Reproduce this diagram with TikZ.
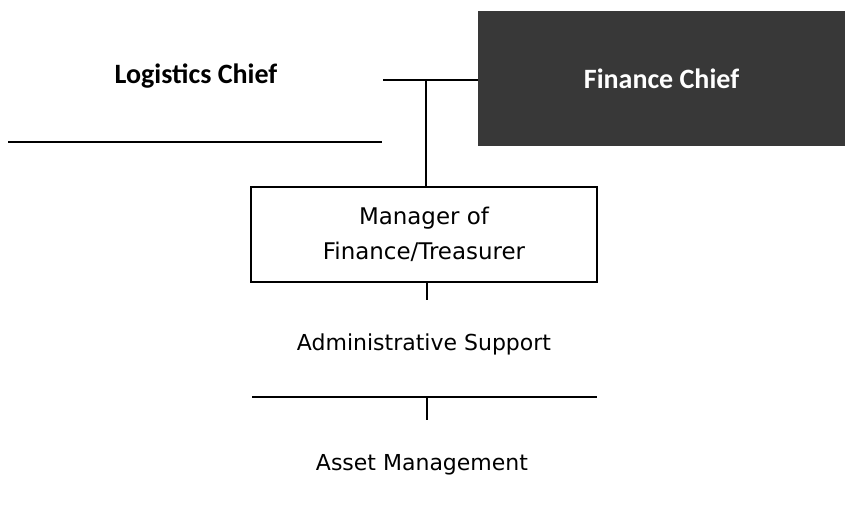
\documentclass[tikz,border=0pt]{standalone}
\usepackage{fontspec}
\setmainfont{DejaVu Sans}
\newfontfamily\chieffont{Carlito}

\begin{document}
\begin{tikzpicture}[x=0.75pt,y=-0.75pt,
        chief/.style={font=\chieffont\bfseries\fontsize{21}{25}\selectfont},
        unit/.style={font=\fontsize{16.5}{26}\selectfont, align=center},
        link/.style={line width=1.1pt}]
            \useasboundingbox (0,0) rectangle (845,512);
            % Jefes
            \node[chief] (logi) at (196,76) {Logistics Chief};
            \node[chief, fill=black!78, text=white, inner sep=0pt,
                  minimum width=275.25pt, minimum height=101.25pt] (fin) at (661.5,78.5) {Finance Chief};
            \coordinate (logiL) at (8,142);
            \coordinate (logiR) at (382,142);
            \draw[link] (logiL) -- (logiR);
            % Union de los jefes
            \coordinate (joinL) at (383,80);
            \coordinate (joinT) at (426,80);
            \draw[link] (joinL) -- (fin.west |- joinL);
            % Gerente
            \node[unit, font=\fontsize{17.2}{26}\selectfont, draw, line width=1.2pt, inner sep=0pt,
                  minimum width=259.5pt, minimum height=71.25pt] (mgr) at (424,234.5) {Manager of\\Finance/Treasurer};
            \draw[link] (joinT) -- (joinT |- mgr.north);
            \coordinate (tickA) at (427,300);
            \draw[link] (tickA |- mgr.south) -- (tickA);
            % Apoyo administrativo
            \node[unit] (admin) at (424,344) {Administrative Support};
            \coordinate (sepL) at (252,397);
            \coordinate (sepR) at (597,397);
            \draw[link] (sepL) -- (sepR);
            \coordinate (tickB) at (427,420);
            \draw[link] (tickB |- sepL) -- (tickB);
            % Gestion de activos
            \node[unit] (asset) at (422,465) {Asset Management};
        \end{tikzpicture}
\end{document}
